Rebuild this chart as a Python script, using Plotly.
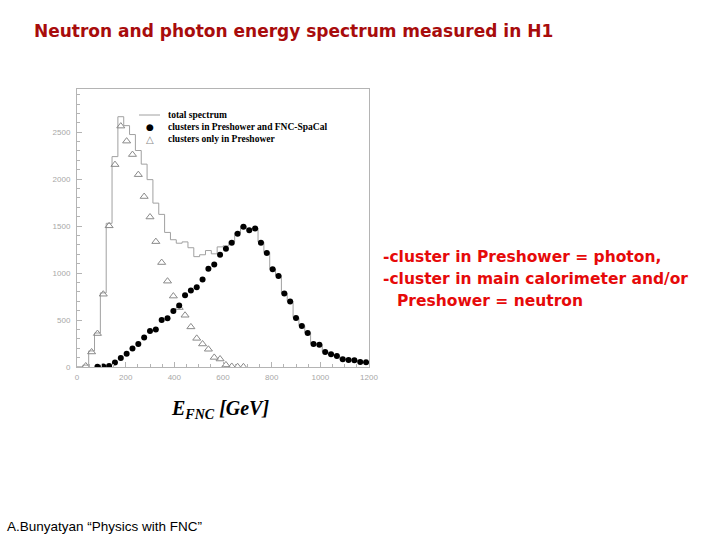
import plotly.graph_objects as go

# ---- data (50 bins of 24 GeV, 0..1200 GeV) ----
bin_width = 24
n_bins = 50
bin_edges = [bin_width * i for i in range(n_bins + 1)]
bin_centers = [bin_width * i + bin_width / 2 for i in range(n_bins)]

total_spectrum = [2, 20, 171, 362, 789, 1530, 2240, 2665, 2570, 2475,
                  2305, 2160, 1995, 1745, 1625, 1433, 1355, 1318, 1332, 1270,
                  1175, 1195, 1240, 1205, 1279, 1290, 1335, 1430, 1500, 1465,
                  1480, 1330, 1220, 1045, 975, 785, 700, 525, 440, 365,
                  248, 240, 162, 137, 118, 84, 76, 72, 55, 51]

preshower_and_spacal = [None, None, None, 2, 4, 10, 47, 96, 142, 196,
                        245, 313, 384, 398, 501, 519, 597, 654, 764, 814,
                        850, 932, 1046, 1092, 1195, 1258, 1322, 1418, 1493, 1457,
                        1475, 1322, 1215, 1042, 970, 782, 697, 522, 437, 362,
                        245, 238, 160, 135, 117, 82, 75, 71, 53, 50]

preshower_only = [None, 11, 160, 356, 775, 1503, 2155, 2565, 2405, 2262,
                  2048, 1815, 1597, 1335, 1112, 914, 755, 633, 551, 427,
                  305, 245, 189, 102, 85, 22, 6, 3, 2, None,
                  None, None, None, None, None, None, None, None, None, None,
                  None, None, None, None, None, None, None, None, None, None]

legend_labels = ["total spectrum",
                 "clusters in Preshower and FNC-SpaCal",
                 "clusters only in Preshower"]

title_text = "Neutron and photon energy spectrum measured in H1"
note_lines = ["-cluster in Preshower = photon,",
              "-cluster in main calorimeter and/or",
              "Preshower = neutron"]
credit_text = "A.Bunyatyan \u201cPhysics with FNC\u201d"

# ---- figure ----
W, H = 720, 540
L, R, T, B = 77, 369, 89, 367

def px(xp):
    return (xp - L) / (R - L)

def py(yp):
    return (B - yp) / (B - T)

fig = go.Figure()

fig.add_trace(go.Scatter(
    x=bin_edges, y=total_spectrum + [total_spectrum[-1]],
    mode="lines", line=dict(shape="hv", color="#a0a0a0", width=1),
    showlegend=False, hoverinfo="skip"))

fig.add_trace(go.Scatter(
    x=bin_centers, y=preshower_only, mode="markers",
    marker=dict(symbol="triangle-up-open", size=7, color="#8a8a8a",
                line=dict(width=1, color="#8a8a8a")),
    showlegend=False))

fig.add_trace(go.Scatter(
    x=bin_centers, y=preshower_and_spacal, mode="markers",
    marker=dict(symbol="circle", size=6, color="black"),
    showlegend=False))

axis_common = dict(showgrid=False, zeroline=False, showline=True, mirror=True,
                   linecolor="#b4b4b4", linewidth=1, ticks="inside",
                   tickcolor="#b4b4b4",
                   tickfont=dict(family="Liberation Sans", size=8, color="#a8a8a8"))

fig.update_xaxes(range=[0, 1200], dtick=200, tick0=0, ticklen=5,
                 minor=dict(dtick=50, ticks="inside", ticklen=3, tickcolor="#b4b4b4"),
                 ticklabelstandoff=2, **axis_common)
fig.update_yaxes(range=[0, 2960], dtick=500, tick0=0, ticklen=5,
                 minor=dict(dtick=100, ticks="inside", ticklen=3, tickcolor="#b4b4b4"),
                 ticklabelstandoff=4, **axis_common)

annotations = []
# title
annotations.append(dict(xref="paper", yref="paper", x=px(32), y=py(31),
                        xanchor="left", yanchor="middle", showarrow=False,
                        text="<b>" + title_text + "</b>",
                        font=dict(family="DejaVu Sans", size=17, color="#a80c0c")))
# note lines
note_pos = [(381, 257), (381, 279), (395, 301)]
for (xp, yp), line in zip(note_pos, note_lines):
    annotations.append(dict(xref="paper", yref="paper", x=px(xp), y=py(yp),
                            xanchor="left", yanchor="middle", showarrow=False,
                            text="<b>" + line + "</b>",
                            font=dict(family="DejaVu Sans", size=15.5, color="#e60a0a")))
# credit
annotations.append(dict(xref="paper", yref="paper", x=px(5), y=py(526),
                        xanchor="left", yanchor="middle", showarrow=False,
                        text=credit_text,
                        font=dict(family="Liberation Sans", size=13.5, color="black")))
# axis title
annotations.append(dict(xref="paper", yref="paper", x=px(220), y=py(409),
                        xanchor="center", yanchor="middle", showarrow=False,
                        text="<b><i>E<sub>FNC</sub> [GeV]</i></b>",
                        font=dict(family="Liberation Serif", size=20, color="black")))

# legend (drawn as annotations)
leg_rows = [115, 127, 139]
for yp, lab in zip(leg_rows, legend_labels):
    annotations.append(dict(xref="paper", yref="paper", x=px(166), y=py(yp),
                            xanchor="left", yanchor="middle", showarrow=False,
                            text="<b>" + lab + "</b>",
                            font=dict(family="Liberation Serif", size=9.5, color="black")))
annotations.append(dict(xref="paper", yref="paper", x=px(150), y=py(leg_rows[1]),
                        xanchor="center", yanchor="middle", showarrow=False,
                        text="\u25cf", font=dict(family="DejaVu Sans", size=9, color="black")))
annotations.append(dict(xref="paper", yref="paper", x=px(150), y=py(leg_rows[2]),
                        xanchor="center", yanchor="middle", showarrow=False,
                        text="\u25b3", font=dict(family="DejaVu Sans", size=10, color="#8a8a8a")))

shapes = [dict(type="line", xref="paper", yref="paper",
               x0=px(139), x1=px(160), y0=py(leg_rows[0]), y1=py(leg_rows[0]),
               line=dict(color="#a0a0a0", width=1))]

fig.update_layout(width=W, height=H,
                  margin=dict(l=L, r=W - R, t=T, b=H - B, pad=0),
                  paper_bgcolor="white", plot_bgcolor="white",
                  showlegend=False, annotations=annotations, shapes=shapes)

fig.write_html("out.html")
